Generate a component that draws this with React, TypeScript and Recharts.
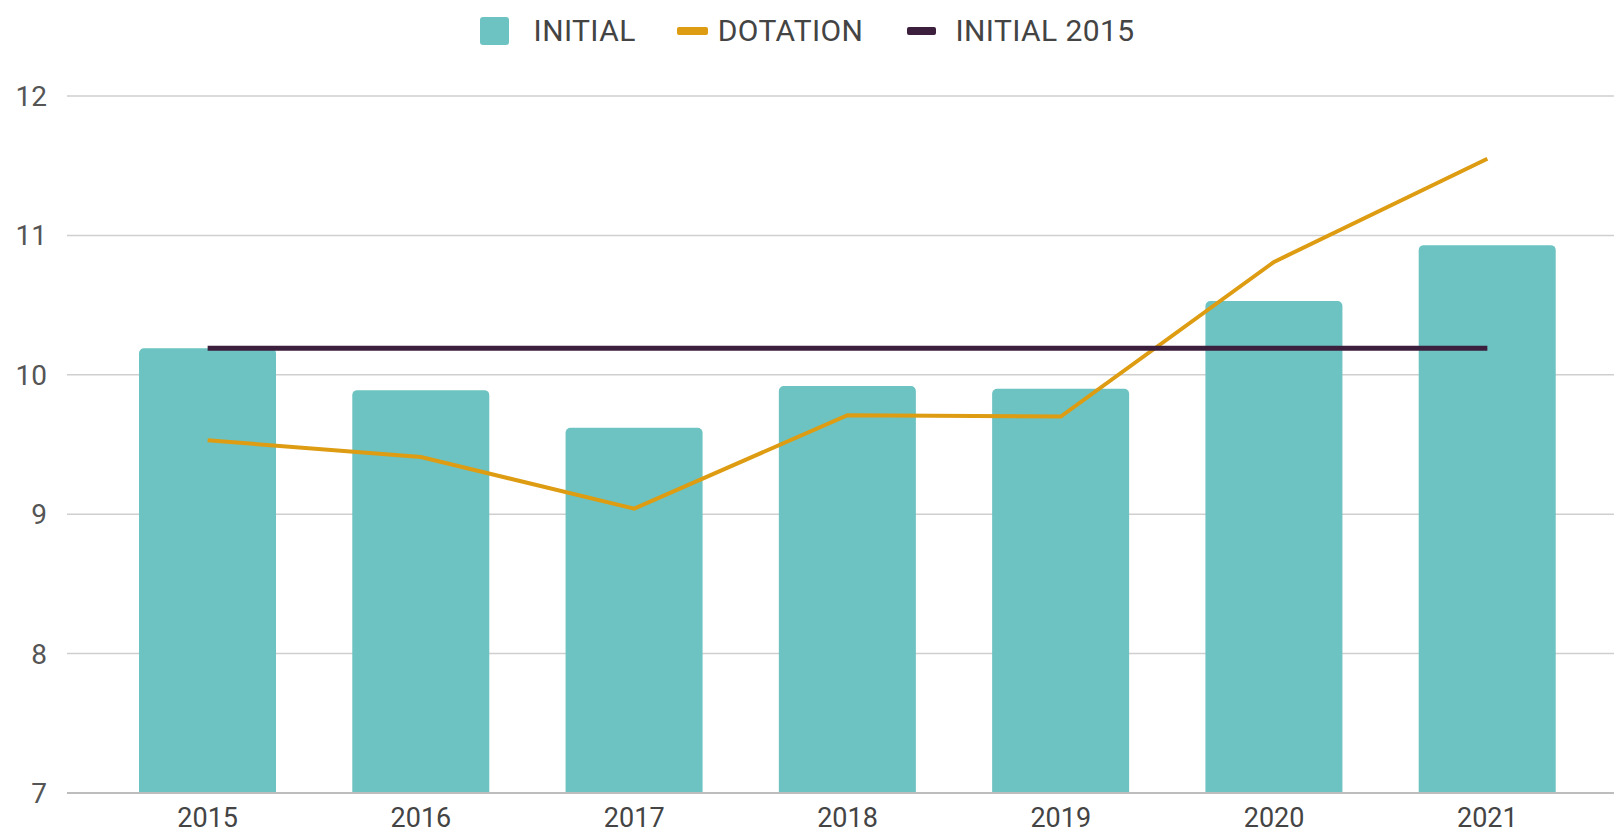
import React from 'react';
import { ComposedChart, Bar, Line, XAxis, YAxis, CartesianGrid } from 'recharts';

const YEARS = ['2015', '2016', '2017', '2018', '2019', '2020', '2021'];
const INITIAL = [10.19, 9.89, 9.62, 9.92, 9.9, 10.53, 10.93];
const DOTATION = [9.53, 9.41, 9.04, 9.71, 9.7, 10.81, 11.55];
const INITIAL_2015 = [10.19, 10.19, 10.19, 10.19, 10.19, 10.19, 10.19];
const Y_TICKS = [7, 8, 9, 10, 11, 12];

const SERIES_NAMES = ['INITIAL', 'DOTATION', 'INITIAL 2015'];
const COLORS = { initial: '#6cc3c1', dotation: '#dd9c12', initial2015: '#3b1f3d' };

const data = YEARS.map((y, i) => ({
  year: y,
  initial: INITIAL[i],
  dotation: DOTATION[i],
  initial2015: INITIAL_2015[i],
}));

const FONT = 'Roboto, "Noto Sans", sans-serif';

function LegendBar() {
  const textStyle: React.CSSProperties = {
    fontSize: 30,
    color: '#444',
    fontFamily: FONT,
    lineHeight: '34px',
    letterSpacing: 0.4,
  };
  return (
    <div
      style={{
        position: 'absolute',
        top: 14,
        left: 0,
        width: 1614,
        height: 34,
        display: 'flex',
        justifyContent: 'center',
        alignItems: 'center',
      }}
    >
      <div style={{ width: 29, height: 28, background: COLORS.initial, borderRadius: 3, marginRight: 25 }} />
      <span style={textStyle}>{SERIES_NAMES[0]}</span>
      <div style={{ width: 31, height: 8, background: COLORS.dotation, borderRadius: 2, marginLeft: 41, marginRight: 10 }} />
      <span style={textStyle}>{SERIES_NAMES[1]}</span>
      <div style={{ width: 29, height: 8, background: COLORS.initial2015, borderRadius: 2, marginLeft: 44, marginRight: 19 }} />
      <span style={textStyle}>{SERIES_NAMES[2]}</span>
    </div>
  );
}

export default function App() {
  return (
    <div style={{ position: 'absolute', top: 0, left: 0, width: 1614, height: 836, background: '#fff' }}>
      <LegendBar />
      <ComposedChart
        width={1614}
        height={836}
        data={data}
        margin={{ top: 96, right: 0, bottom: 13, left: 0 }}
      >
        <CartesianGrid vertical={false} stroke="#cfcfcf" strokeWidth={1.5} />
        <XAxis
          dataKey="year"
          height={30}
          padding={{ left: 34, right: 20 }}
          tickLine={false}
          tickSize={0}
          tickMargin={15}
          axisLine={{ stroke: '#bdbdbd', strokeWidth: 2 }}
          tick={{ fontSize: 27, fill: '#444', fontFamily: FONT }}
          interval={0}
        />
        <YAxis
          width={67}
          domain={[7, 12]}
          ticks={Y_TICKS}
          allowDataOverflow
          axisLine={false}
          tickLine={false}
          tickSize={0}
          tickMargin={20}
          tick={{ fontSize: 28, fill: '#555', fontFamily: FONT }}
        />
        <Bar
          dataKey="initial"
          name={SERIES_NAMES[0]}
          fill={COLORS.initial}
          barSize={137}
          radius={[5, 5, 0, 0]}
          isAnimationActive={false}
        />
        <Line
          dataKey="dotation"
          name={SERIES_NAMES[1]}
          stroke={COLORS.dotation}
          strokeWidth={4}
          dot={false}
          activeDot={false}
          type="linear"
          isAnimationActive={false}
        />
        <Line
          dataKey="initial2015"
          name={SERIES_NAMES[2]}
          stroke={COLORS.initial2015}
          strokeWidth={5}
          dot={false}
          activeDot={false}
          type="linear"
          isAnimationActive={false}
        />
      </ComposedChart>
    </div>
  );
}
